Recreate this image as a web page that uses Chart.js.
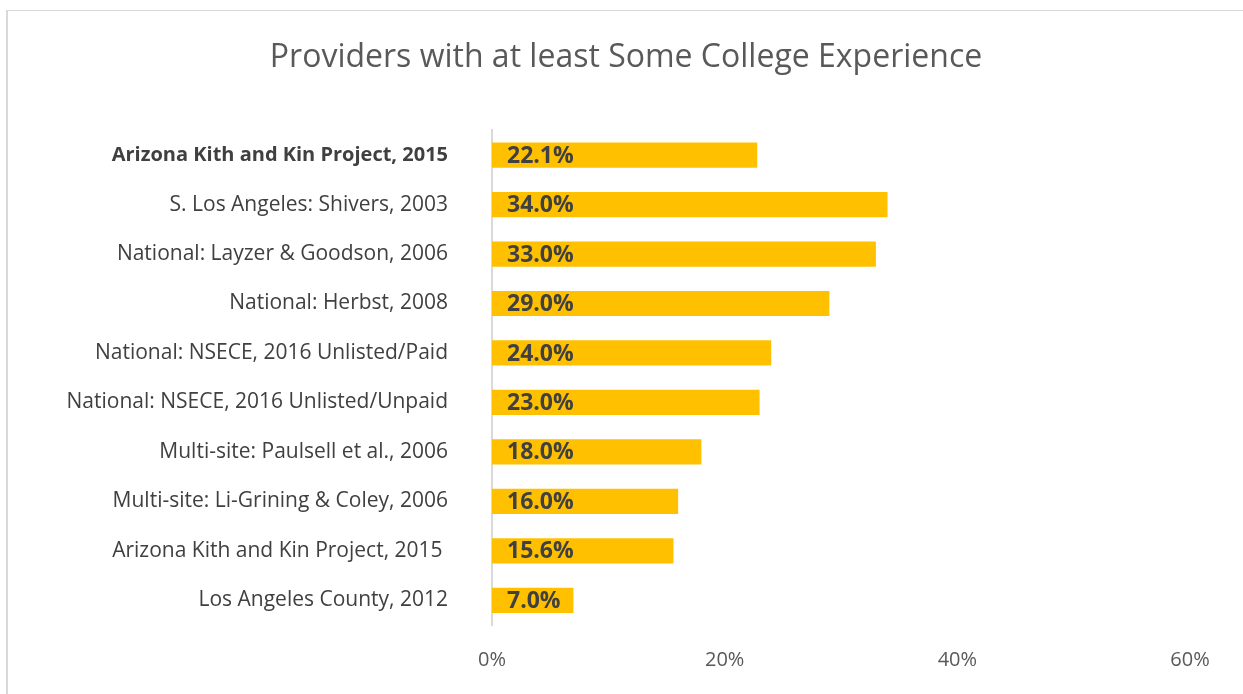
<!DOCTYPE html>
<html lang="en">
<head>
<meta charset="UTF-8" />
<title>Providers with at least Some College Experience</title>
<style>
  html,body{margin:0;padding:0;background:#fff;}
  .frame{position:absolute;left:6px;top:10px;width:1300px;height:800px;border-left:2px solid #d9d9d9;border-top:1px solid #d9d9d9;}
  #chart{position:absolute;left:0;top:0;}
</style>
<script src="https://cdn.jsdelivr.net/npm/chart.js"></script>
</head>
<body>
<div class="frame"></div>
<canvas id="chart" width="1243" height="694"></canvas>

<script>
/* ---- data ---- */
const studies = [
  'Arizona Kith and Kin Project, 2015',
  'S. Los Angeles: Shivers, 2003',
  'National: Layzer & Goodson, 2006',
  'National: Herbst, 2008',
  'National: NSECE, 2016 Unlisted/Paid',
  'National: NSECE, 2016 Unlisted/Unpaid',
  'Multi-site: Paulsell et al., 2006',
  'Multi-site: Li-Grining & Coley, 2006',
  'Arizona Kith and Kin Project, 2015 ',
  'Los Angeles County, 2012'
];
const collegePct = [22.8, 34.0, 33.0, 29.0, 24.0, 23.0, 18.0, 16.0, 15.6, 7.0];   // bar lengths
const pctLabels  = ['22.1%','34.0%','33.0%','29.0%','24.0%','23.0%','18.0%','16.0%','15.6%','7.0%'];
const xTicks = [0, 20, 40, 60];

const FONT = '"Open Sans", "DejaVu Sans", sans-serif';
const PAD_L = 62;

/* bar value labels, drawn at the start of each bar */
const barLabels = {
  id: 'barLabels',
  afterDatasetsDraw(chart){
    const c = chart.ctx;
    const meta = chart.getDatasetMeta(0);
    c.save();
    c.font = 'bold 23px ' + FONT;
    c.fillStyle = '#404040';
    c.textAlign = 'left';
    c.textBaseline = 'middle';
    meta.data.forEach((bar, i) => {
      c.fillText(pctLabels[i], bar.base + 15, bar.y + 1);
    });
    c.restore();
  }
};

new Chart(document.getElementById('chart'), {
  type: 'bar',
  data: {
    labels: studies,
    datasets: [{
      data: collegePct,
      backgroundColor: '#FFC000',
      borderWidth: 0,
      categoryPercentage: 1,
      barPercentage: 0.51
    }]
  },
  options: {
    indexAxis: 'y',
    responsive: false,
    animation: false,
    layout: { padding: { left: PAD_L, right: 53, top: 0, bottom: 0 } },
    plugins: {
      legend: { display: false },
      tooltip: { enabled: false },
      title: {
        display: true,
        text: 'Providers with at least Some College Experience',
        color: '#595959',
        font: { family: FONT, size: 32, weight: 'normal' },
        padding: { top: 39, bottom: 53 }
      }
    },
    scales: {
      x: {
        min: 0, max: 60,
        afterBuildTicks: s => { s.ticks = xTicks.map(v => ({ value: v })); },
        afterFit: s => { s.height = 69; },
        grid: { display: false, drawTicks: false },
        border: { display: false },
        ticks: {
          padding: 23,
          color: '#595959',
          font: { family: FONT, size: 20 },
          callback: v => v + '%'
        }
      },
      y: {
        afterFit: s => { s.width = 492 - PAD_L; },
        grid: { display: false, drawTicks: false },
        border: { display: true, color: '#d9d9d9', width: 2 },
        ticks: {
          padding: 44,
          color: '#404040',
          font: ctx => ({ family: FONT, size: ctx.index === 0 ? 20 : 21, weight: ctx.index === 0 ? 'bold' : 'normal' })
        }
      }
    }
  },
  plugins: [barLabels]
});
</script>
</body>
</html>
